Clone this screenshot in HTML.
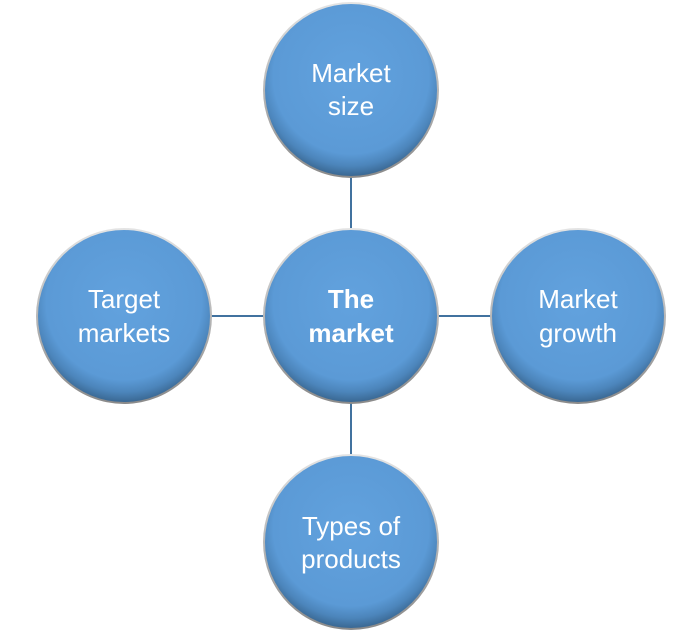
<!DOCTYPE html>
<html><head><meta charset="utf-8"><style>
html,body{margin:0;padding:0;background:#fff;width:700px;height:639px;overflow:hidden}
text{font-family:"Liberation Sans",sans-serif;fill:#fff;font-size:26px;text-anchor:middle}
</style></head><body>
<svg width="700" height="639" viewBox="0 0 700 639">
<defs>
<radialGradient id="g" cx="50%" cy="42%" r="58%">
<stop offset="0" stop-color="#62a2de"/>
<stop offset="0.78" stop-color="#5b9ad6"/>
<stop offset="0.9" stop-color="#4c85bb"/>
<stop offset="1" stop-color="#3a6893"/>
</radialGradient>
<linearGradient id="rim" x1="0" y1="0" x2="0" y2="1">
<stop offset="0" stop-color="#e4e4e4"/>
<stop offset="1" stop-color="#8a8a8a"/>
</linearGradient>
<g id="c">
<circle r="88" fill="url(#rim)"/>
<circle r="86" fill="url(#g)"/>
</g>
</defs>
<g stroke="#41729f" stroke-width="2">
<line x1="351" y1="178" x2="351" y2="230"/>
<line x1="351" y1="402" x2="351" y2="456"/>
<line x1="211" y1="316" x2="264" y2="316"/>
<line x1="438" y1="316" x2="492" y2="316"/>
</g>
<use href="#c" x="351" y="90"/>
<use href="#c" x="351" y="316"/>
<use href="#c" x="124" y="316"/>
<use href="#c" x="578" y="316"/>
<use href="#c" x="351" y="542"/>
<text x="351" y="82">Market</text><text x="351" y="115">size</text>
<text x="351" y="308" font-weight="bold">The</text><text x="351" y="342" font-weight="bold">market</text>
<text x="124" y="308">Target</text><text x="124" y="342">markets</text>
<text x="578" y="308">Market</text><text x="578" y="342">growth</text>
<text x="351" y="535">Types of</text><text x="351" y="568">products</text>
</svg>
</body></html>
